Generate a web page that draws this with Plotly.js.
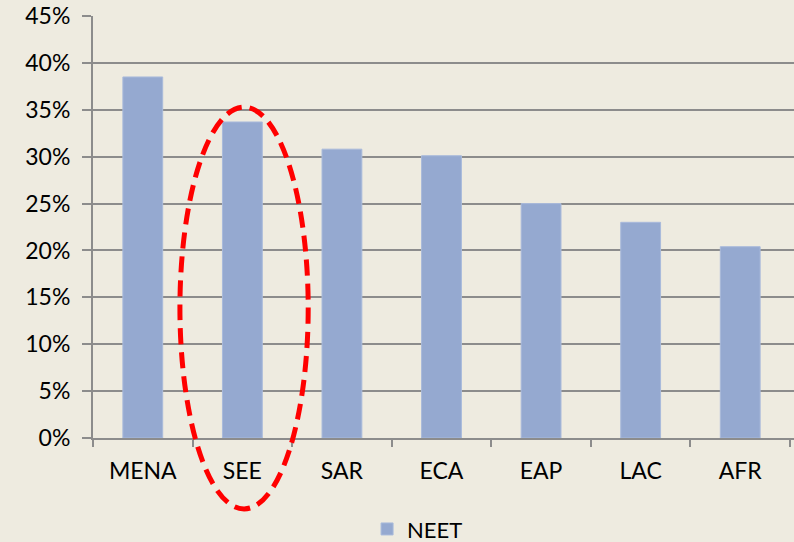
<!DOCTYPE html>
<html><head><meta charset="utf-8">
<script src="https://cdn.plot.ly/plotly-3.0.1.min.js"></script>
<style>html,body{margin:0;padding:0;background:#EEEBE0;}</style>
</head><body>
<div id="chart" style="width:794px;height:542px;"></div>
<script>
const regions = ["MENA", "SEE", "SAR", "ECA", "EAP", "LAC", "AFR"];
const neet = [0.385, 0.337, 0.308, 0.301, 0.250, 0.230, 0.204];
const yTicks = [0, 0.05, 0.10, 0.15, 0.20, 0.25, 0.30, 0.35, 0.40, 0.45];
const yTickText = ["0%", "5%", "10%", "15%", "20%", "25%", "30%", "35%", "40%", "45%"];

const trace = {
  type: 'bar', x: regions, y: neet, name: 'NEET',
  marker: {color: '#95A9D0', line: {color: '#A9BADB', width: 1}},
  width: 0.4, showlegend: true
};
const layout = {
  width: 794, height: 542,
  margin: {l: 93, r: 0, t: 16, b: 104, autoexpand: false},
  paper_bgcolor: '#EEEBE0', plot_bgcolor: '#EEEBE0',
  font: {family: 'Lato, Carlito, sans-serif', size: 23, color: '#000'},
  showlegend: true,
  legend: {orientation: 'h', x: 0.463, xanchor: 'center', y: -0.216, yanchor: 'middle',
           font: {size: 22}, bgcolor: 'rgba(0,0,0,0)', itemwidth: 30},
  xaxis: {type: 'category', range: [-0.5, 6.54], showgrid: false, showline: true,
          linecolor: '#8C8C8C', linewidth: 2, ticks: 'outside', tickson: 'boundaries',
          ticklen: 7, tickcolor: '#8C8C8C', tickwidth: 2, ticklabelstandoff: 11, zeroline: false},
  yaxis: {range: [0, 0.45], tickvals: yTicks, ticktext: yTickText, showgrid: true,
          gridcolor: '#8C8C8C', gridwidth: 2, showline: true, linecolor: '#8C8C8C', linewidth: 2,
          ticks: 'outside', ticklen: 9, tickcolor: '#8C8C8C', tickwidth: 2, zeroline: false,
          ticklabelstandoff: 7},
  shapes: [{type: 'circle', xref: 'paper', yref: 'paper', x0: 0.124, x1: 0.307, y0: -0.168, y1: 0.784,
            line: {color: '#FF0000', width: 5, dash: '16px,8px'}, layer: 'above'}]
};
Plotly.newPlot('chart', [trace], layout, {displayModeBar: false});
</script>
</body></html>
